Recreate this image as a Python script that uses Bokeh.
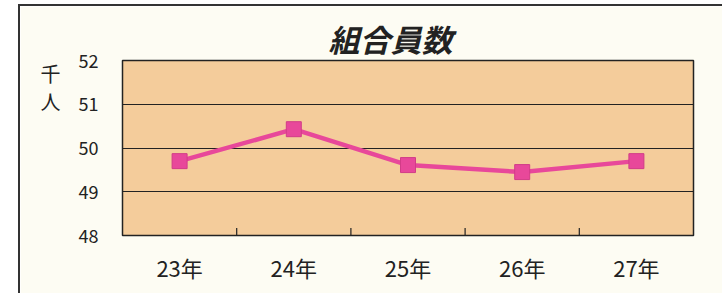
from bokeh.plotting import figure
from bokeh.models import Range1d, FixedTicker, LinearAxis
from bokeh.embed import file_html
from bokeh.resources import INLINE

categories = ["23年", "24年", "25年", "26年", "27年"]
members = [49.70, 50.43, 49.61, 49.45, 49.70]
y_ticks = [48, 49, 50, 51, 52]
title_text = "組合員数"
unit_text = ["千", "人"]

FONT = "Noto Sans CJK JP"
BG = "#fdfcf3"
INK = "#222222"

p = figure(width=704, height=289, x_range=categories, y_range=Range1d(48, 52),
           output_backend="svg", toolbar_location=None,
           min_border_left=102, min_border_right=31, min_border_top=54, min_border_bottom=60)
p.styles = {"margin-left": "18px", "margin-top": "4px",
            "border-left": "2px solid #333333", "border-top": "2px solid #333333"}

p.background_fill_color = "#f4cc9b"
p.border_fill_color = BG
p.outline_line_color = INK
p.outline_line_width = 1.5

p.title.text = title_text
p.title.text_font = FONT
p.title.text_font_size = "31px"
p.title.text_font_style = "bold italic"
p.title.text_color = INK
p.title.align = "left"
p.title.offset = 206
p.title.standoff = 0

p.yaxis.ticker = FixedTicker(ticks=y_ticks)
p.yaxis.axis_line_color = None
p.yaxis.major_tick_line_color = None
p.yaxis.major_tick_out = 0
p.yaxis.major_tick_in = 0
p.yaxis.minor_tick_line_color = None
p.yaxis.major_label_text_font = FONT
p.yaxis.major_label_text_font_size = "18px"
p.yaxis.major_label_text_color = INK
p.yaxis.major_label_standoff = 24

# unit label "千人" stacked vertically, drawn as a label-only axis to the left
unit_pos = [51.70, 51.07]
unit_axis = LinearAxis(ticker=FixedTicker(ticks=unit_pos),
                       major_label_overrides={v: t for v, t in zip(unit_pos, unit_text)})
unit_axis.axis_line_color = None
unit_axis.major_tick_line_color = None
unit_axis.minor_tick_line_color = None
unit_axis.major_tick_out = 0
unit_axis.major_tick_in = 0
unit_axis.major_label_text_font = FONT
unit_axis.major_label_text_font_size = "20px"
unit_axis.major_label_text_color = INK
unit_axis.major_label_standoff = 15
p.add_layout(unit_axis, "left")

p.xaxis.axis_line_color = None
p.xaxis.major_tick_line_color = None
p.xaxis.major_tick_out = 0
p.xaxis.major_tick_in = 0
p.xaxis.major_label_text_font = FONT
p.xaxis.major_label_text_font_size = "22px"
p.xaxis.major_label_text_color = INK
p.xaxis.major_label_standoff = 15

p.xgrid.grid_line_color = None
p.ygrid.grid_line_color = INK
p.ygrid.grid_line_width = 1.2

# category boundary tick marks, pointing inward from the bottom
bounds = [(c, 0.5) for c in categories[:-1]]
p.segment(x0=bounds, y0=[48] * len(bounds), x1=bounds, y1=[48.17] * len(bounds),
          line_color=INK, line_width=1.2)

p.line(categories, members, line_color="#e8489a", line_width=4.5)
p.scatter(categories, members, marker="square", size=15,
          fill_color="#e8489a", line_color="#d23c88", line_width=1)

open("out.html", "w").write(file_html(p, INLINE))
